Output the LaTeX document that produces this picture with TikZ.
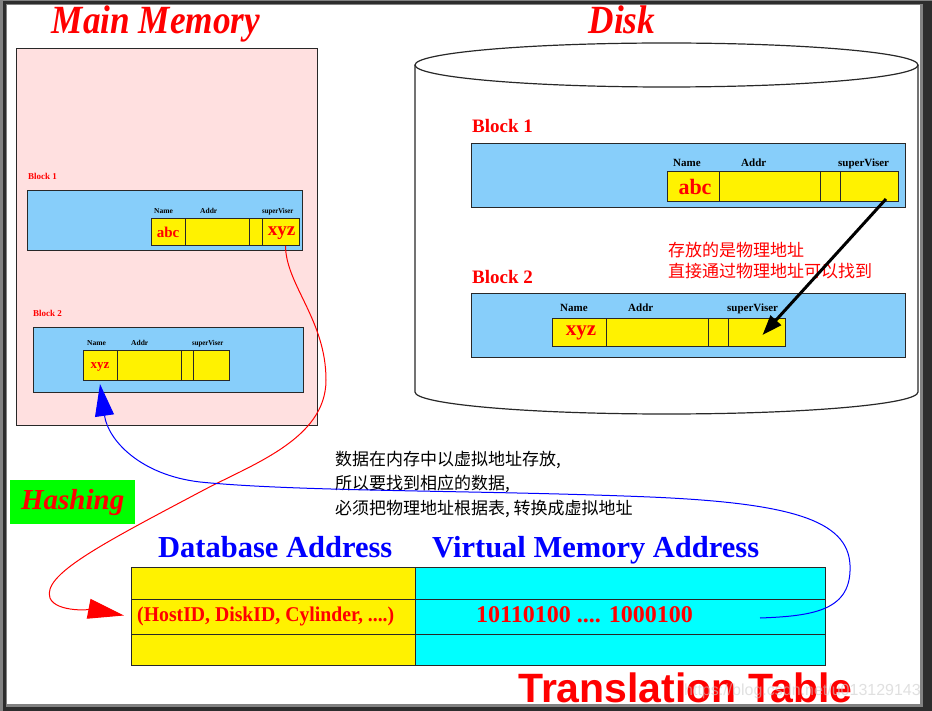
\documentclass[tikz,border=0pt]{standalone}
\usepackage{fontspec}
\setmainfont{Liberation Serif}
\newfontfamily\cjk{Noto Sans CJK SC}
\newfontfamily\sansb{Liberation Sans}
\usetikzlibrary{arrows.meta,calc}
\definecolor{pinkbg}{RGB}{255,224,224}
\definecolor{ltblue}{RGB}{135,206,250}
\definecolor{aqua}{RGB}{0,255,255}
\definecolor{lime}{RGB}{0,255,0}
\definecolor{frameg}{RGB}{130,130,130}
\definecolor{framed}{RGB}{45,45,45}
\definecolor{edge}{RGB}{40,40,40}
\tikzset{
  cell/.style={draw=edge, line width=1pt, fill=yellow, inner sep=0pt, outer sep=0pt, anchor=north west},
  blk/.style={draw=edge, line width=1pt, fill=ltblue, inner sep=0pt, outer sep=0pt, anchor=north west},
  fldlbl/.style={font=\bfseries\fontsize{11}{11}\selectfont, inner sep=0pt, anchor=base west},
  sfldlbl/.style={font=\bfseries\fontsize{7.5}{7.5}\selectfont, inner sep=0pt, anchor=base west},
  redval/.style={text=red, font=\bfseries\fontsize{#1}{#1}\selectfont, inner sep=0pt},
  blklbl/.style={text=red, font=\bfseries\fontsize{#1}{#1}\selectfont, inner sep=0pt, anchor=west},
  cjktext/.style={font=\cjk\fontsize{17}{17}\selectfont, inner sep=0pt, anchor=west},
  heading/.style={text=blue, font=\bfseries\fontsize{30.5}{30.5}\selectfont, inner sep=0pt},
  title/.style={text=red, font=\bfseries\itshape\fontsize{40}{40}\selectfont, inner sep=0pt, anchor=base},
}
\begin{document}
\begin{tikzpicture}[x=1pt,y=-1pt]
\useasboundingbox (0,0) rectangle (932,711);
% frame
\fill[frameg] (0,0) rectangle (932,711);
\fill[framed] (3,1) rectangle (932,711);
\fill[frameg] (6,4) rectangle (923,707);
\fill[white] (7,5) rectangle (920,704);

% titles
\node[title] (tmm) at (156,34) {\scalebox{0.88}[1]{Main Memory}};
\node[title] (tdisk) at (622,34) {\scalebox{0.88}[1]{Disk}};

% main memory
\node[draw=edge, line width=1pt, fill=pinkbg, anchor=north west, minimum width=301pt, minimum height=377pt, inner sep=0pt] (mm) at (16,48) {};
\node[blklbl=9] (mb1lbl) at (28,176) {Block 1};
\node[blk, minimum width=275pt, minimum height=60pt] (mb1) at (27,191) {};
\node[cell, minimum width=34pt, minimum height=27pt] (m1a) at (151,219) {};
\node[cell, minimum width=64pt, minimum height=27pt] (m1b) at (185,219) {};
\node[cell, minimum width=13pt, minimum height=27pt] (m1c) at (249,219) {};
\node[cell, minimum width=37pt, minimum height=27pt] (m1d) at (262,219) {};
\node[sfldlbl] (m1n) at (154,214) {Name};
\node[sfldlbl] (m1ad) at (200,214) {Addr};
\node[sfldlbl] (m1s) at (262,214) {\scalebox{0.9}[1]{superViser}};
\node[redval=15] (m1v) at (m1a.center) {abc};
\node[redval=19] (m1x) at ($(m1d.center)+(1,1)$) {xyz};

\node[blklbl=9] (mb2lbl) at (33,313) {Block 2};
\node[blk, minimum width=270pt, minimum height=64pt] (mb2) at (33,328) {};
\node[cell, minimum width=34pt, minimum height=29pt] (m2a) at (83,351) {};
\node[cell, minimum width=64pt, minimum height=29pt] (m2b) at (117,351) {};
\node[cell, minimum width=12pt, minimum height=29pt] (m2c) at (181,351) {};
\node[cell, minimum width=36pt, minimum height=29pt] (m2d) at (193,351) {};
\node[sfldlbl] (m2n) at (87,345) {Name};
\node[sfldlbl] (m2ad) at (131,345) {Addr};
\node[sfldlbl] (m2s) at (192,345) {\scalebox{0.9}[1]{superViser}};
\node[redval=13] (m2v) at ($(m2a.center)+(0,1)$) {xyz};

% disk cylinder
\coordinate (cyltl) at (415,65);
\coordinate (cyltr) at (918,65);
\coordinate (cylbl) at (415,392);
\coordinate (cylbr) at (918,392);
\draw[edge, line width=1.2pt] (666.5,65) ellipse [x radius=251.5, y radius=22];
\draw[edge, line width=1.2pt] (cyltl) -- (cylbl) arc[start angle=180, end angle=0, x radius=251.5, y radius=22] -- (cyltr);

\node[blklbl=19] (db1lbl) at (472,126) {Block 1};
\node[blk, minimum width=434pt, minimum height=64pt] (db1) at (471,144) {};
\node[cell, minimum width=52pt, minimum height=30pt] (d1a) at (667,172) {};
\node[cell, minimum width=101pt, minimum height=30pt] (d1b) at (719,172) {};
\node[cell, minimum width=20pt, minimum height=30pt] (d1c) at (820,172) {};
\node[cell, minimum width=58pt, minimum height=30pt] (d1d) at (840,172) {};
\node[fldlbl] (d1n) at (673,167) {Name};
\node[fldlbl] (d1ad) at (741,167) {Addr};
\node[fldlbl] (d1s) at (838,167) {superViser};
\node[redval=22] (d1v) at ($(d1a.center)+(2,0)$) {abc};

\node[blklbl=19] (db2lbl) at (472,277) {Block 2};
\node[blk, minimum width=434pt, minimum height=64pt] (db2) at (471,294) {};
\node[cell, minimum width=54pt, minimum height=28pt] (d2a) at (552,319) {};
\node[cell, minimum width=102pt, minimum height=28pt] (d2b) at (606,319) {};
\node[cell, minimum width=20pt, minimum height=28pt] (d2c) at (708,319) {};
\node[cell, minimum width=57pt, minimum height=28pt] (d2d) at (728,319) {};
\node[fldlbl] (d2n) at (560,312) {Name};
\node[fldlbl] (d2ad) at (628,312) {Addr};
\node[fldlbl] (d2s) at (727,312) {superViser};
\node[redval=21] (d2v) at ($(d2a.center)+(2,0)$) {xyz};

% notes
\node[cjktext, text=red] (note1) at (668,250) {存放的是物理地址};
\node[cjktext, text=red] (note2) at (668,271) {直接通过物理地址可以找到};
\node[cjktext] (note3) at (335,460) {数据在内存中以虚拟地址存放,};
\node[cjktext] (note4) at (335,484) {所以要找到相应的数据,};
\node[cjktext] (note5) at (335,509) {必须把物理地址根据表, 转换成虚拟地址};

% black arrow disk block1 -> block2
\coordinate (bstart) at (886,199);
\draw[black, line width=3pt, -{Triangle[length=20pt,width=14pt]}] (bstart) -- ($(d2d.center)+(6,2)$);

% hashing
\node[fill=lime, anchor=north west, minimum width=125pt, minimum height=44pt, inner sep=0pt] (hash) at (10,480) {};
\node[text=red, font=\bfseries\itshape\fontsize{29}{29}\selectfont, inner sep=0pt] (hashtxt) at (hash.center) {Hashing};

% headings
\node[heading, anchor=base west] (hdb) at (158,557) {Database Address};
\node[heading, anchor=base west] (hvm) at (432,557) {Virtual Memory Address};

% table
\node[cell, minimum width=284pt, minimum height=32pt] (t11) at (131,567) {};
\node[cell, minimum width=284pt, minimum height=35pt] (t21) at (131,599) {};
\node[cell, minimum width=284pt, minimum height=31pt] (t31) at (131,634) {};
\node[cell, fill=aqua, minimum width=410pt, minimum height=32pt] (t12) at (415,567) {};
\node[cell, fill=aqua, minimum width=410pt, minimum height=35pt] (t22) at (415,599) {};
\node[cell, fill=aqua, minimum width=410pt, minimum height=31pt] (t32) at (415,634) {};
\node[text=red, font=\fontsize{21}{21}\selectfont, inner sep=0pt, anchor=west] (hostid) at (137,616) {\scalebox{0.94}[1]{\textbf{(HostID, DiskID, Cylinder, ....)}}};
\node[redval=24, anchor=west] (vaddr) at (476,615) {10110100 .... 1000100};

% translation table title
\node[text=red, font=\sansb\bfseries\fontsize{41}{41}\selectfont, inner sep=0pt, anchor=base west] (ttl) at (518,702) {Translation Table};
\node[text=black!20, opacity=0.6, font=\sansb\fontsize{16}{16}\selectfont, inner sep=0pt, anchor=east] (wm) at (921,691) {https://blog.csdn.net/u013129143};

% red hashing curve
\coordinate (rstart) at ($(m1d.south)+(5,0)$);
\draw[red, line width=1pt, -{Triangle[length=36pt,width=20pt]}] (rstart) .. controls (286,285) and (326,320) .. (326,380) .. controls (326,440) and (250,465) .. (200,492) .. controls (100,545) and (42,575) .. (50,598) .. controls (56,613) and (95,610) .. ($(t21.west)+(-7,-1)$);

% blue curve
\coordinate (vstart) at (760,618);
\draw[blue, line width=1pt, -{Triangle[length=32pt,width=19pt]}] (vstart) .. controls (815,616) and (852,610) .. (850,565) .. controls (848,520) and (790,503) .. (650,497) .. controls (480,490) and (300,492) .. (200,482) .. controls (140,475) and (108,440) .. ($(m2a.south)+(0,4)$);
\end{tikzpicture}
\end{document}
